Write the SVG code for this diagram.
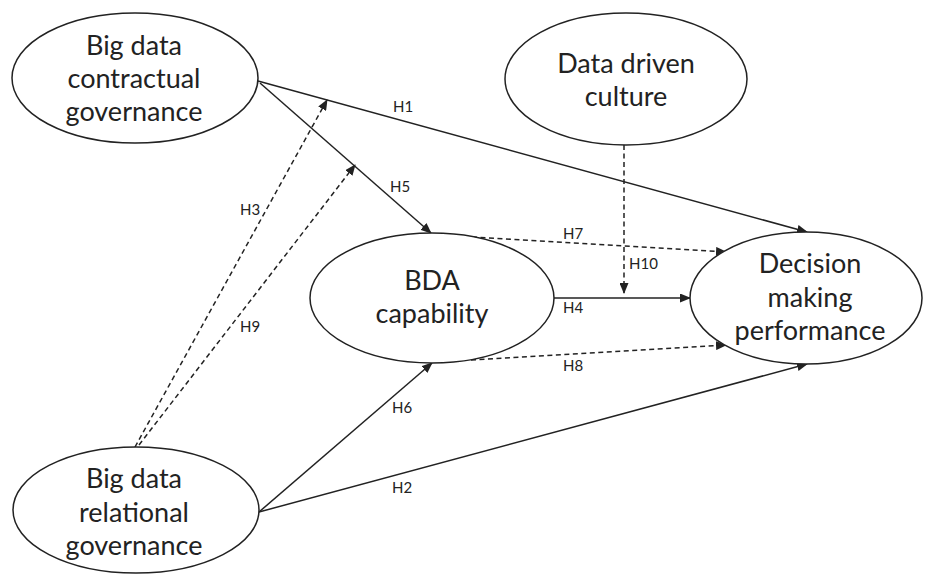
<svg xmlns="http://www.w3.org/2000/svg" width="927" height="574" viewBox="0 0 927 574">
<style>
.node ellipse{fill:#fff;stroke:#222;stroke-width:1.5}
.node text{font-family:Lato,"Liberation Sans",sans-serif;font-size:27px;fill:#222;text-anchor:middle}
.c{fill:none;stroke:#222;stroke-width:1.5}
.d{stroke-dasharray:5 3.5}
.lbl{font-family:Lato,"Liberation Sans",sans-serif;font-size:15px;fill:#222}
</style>
<defs>
<marker id="ah" markerUnits="userSpaceOnUse" markerWidth="11" markerHeight="9" refX="10" refY="4.5" orient="auto">
<path d="M0,0 L11,4.5 L0,9 Z" fill="#222"/>
</marker>
</defs>
<rect width="927" height="574" fill="#fff"/>
<g id="connectors">
<line class="c" x1="258" y1="81" x2="807" y2="232" marker-end="url(#ah)"/>
<line class="c" x1="260" y1="83" x2="431" y2="233" marker-end="url(#ah)"/>
<line class="c d" x1="135" y1="447" x2="327" y2="100" marker-end="url(#ah)"/>
<line class="c d" x1="139" y1="445" x2="355" y2="165" marker-end="url(#ah)"/>
<line class="c" x1="259" y1="512" x2="432" y2="363" marker-end="url(#ah)"/>
<line class="c" x1="259" y1="512" x2="807" y2="364" marker-end="url(#ah)"/>
<line class="c" x1="554" y1="298" x2="690" y2="298" marker-end="url(#ah)"/>
<line class="c d" x1="624" y1="145" x2="624" y2="293" marker-end="url(#ah)"/>
<line class="c d" x1="472" y1="237" x2="726" y2="252" marker-end="url(#ah)"/>
<line class="c d" x1="471" y1="360" x2="726" y2="345" marker-end="url(#ah)"/>
<text class="lbl" x="393" y="112">H1</text>
<text class="lbl" x="390" y="192">H5</text>
<text class="lbl" x="240" y="215">H3</text>
<text class="lbl" x="240" y="332">H9</text>
<text class="lbl" x="392" y="413">H6</text>
<text class="lbl" x="392" y="493">H2</text>
<text class="lbl" x="563" y="313">H4</text>
<text class="lbl" x="563" y="371">H8</text>
<text class="lbl" x="563" y="239">H7</text>
<text class="lbl" x="629" y="269">H10</text>
</g>
<g id="contractual" class="node">
<ellipse cx="135" cy="78" rx="123" ry="65"/>
<text x="134" y="55">Big data</text>
<text x="134" y="88">contractual</text>
<text x="134" y="121">governance</text>
</g>
<g id="culture" class="node">
<ellipse cx="626" cy="79" rx="121" ry="66"/>
<text x="626" y="73">Data driven</text>
<text x="626" y="106">culture</text>
</g>
<g id="bda" class="node">
<ellipse cx="432" cy="298" rx="122" ry="65"/>
<text x="432" y="290">BDA</text>
<text x="432" y="323">capability</text>
</g>
<g id="decision" class="node">
<ellipse cx="806" cy="298" rx="116" ry="66"/>
<text x="810" y="273">Decision</text>
<text x="810" y="307">making</text>
<text x="810" y="340">performance</text>
</g>
<g id="relational" class="node">
<ellipse cx="136" cy="510" rx="123" ry="63"/>
<text x="134" y="488">Big data</text>
<text x="134" y="522">relational</text>
<text x="134" y="555">governance</text>
</g>
</svg>
